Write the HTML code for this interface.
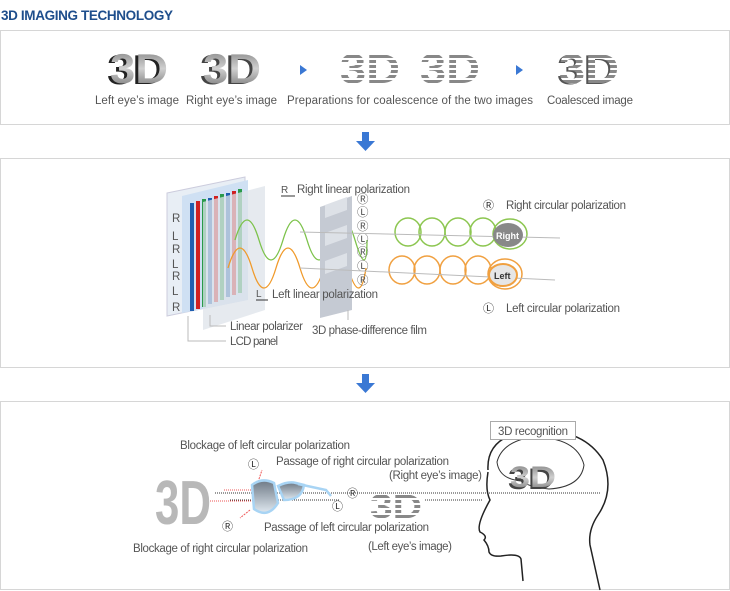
<!DOCTYPE html>
<html><head><meta charset="utf-8"><style>
body{margin:0;background:#fff;width:730px;height:591px;overflow:hidden}
svg{display:block}
text{font-family:"Liberation Sans",sans-serif;fill:#555;font-size:11.5px}
.b3d{font-family:"Liberation Sans",sans-serif;font-weight:bold;font-size:42px}
</style></head><body>
<svg width="730" height="591" viewBox="0 0 730 591" xmlns="http://www.w3.org/2000/svg">
<defs>
<linearGradient id="g3d" x1="0" y1="0" x2="0" y2="1"><stop offset="0" stop-color="#777"/><stop offset=".5" stop-color="#d0d0d0"/><stop offset="1" stop-color="#6a6a6a"/></linearGradient>
<linearGradient id="lens" x1="0" y1="0" x2="0" y2="1"><stop offset="0" stop-color="#6f7a86"/><stop offset="1" stop-color="#dfe8f0"/></linearGradient>
<pattern id="stripes" width="4" height="5" patternUnits="userSpaceOnUse"><rect width="4" height="5" fill="#fff"/><rect width="4" height="3" fill="#888"/></pattern>
</defs>
<text x="1" y="20" style="font-weight:bold;font-size:13.5px;fill:#1e4e8c" textLength="172">3D IMAGING TECHNOLOGY</text>
<rect x="0.5" y="30.5" width="729" height="94" fill="#fff" stroke="#d6d6d6"/>
<text class="b3d" x="107" y="84" style="fill:#222" textLength="58" lengthAdjust="spacingAndGlyphs">3D</text><text class="b3d" x="110" y="83" style="fill:url(#g3d)" textLength="58" lengthAdjust="spacingAndGlyphs">3D</text>
<text class="b3d" x="200" y="84" style="fill:#444" textLength="58" lengthAdjust="spacingAndGlyphs">3D</text><text class="b3d" x="203" y="83" style="fill:url(#g3d)" textLength="58" lengthAdjust="spacingAndGlyphs">3D</text>
<text class="b3d" x="340" y="83" style="fill:url(#stripes)" textLength="60" lengthAdjust="spacingAndGlyphs">3D</text>
<text class="b3d" x="420" y="83" style="fill:url(#stripes)" textLength="60" lengthAdjust="spacingAndGlyphs">3D</text>
<text class="b3d" x="557" y="84" style="fill:#555" textLength="60" lengthAdjust="spacingAndGlyphs">3D</text><text class="b3d" x="559" y="83" style="fill:url(#stripes)" textLength="60" lengthAdjust="spacingAndGlyphs">3D</text>
<path d="M300 65 l7 5 -7 5z" fill="#3a78d4"/>
<path d="M516 65 l7 5 -7 5z" fill="#3a78d4"/>
<text x="95" y="104" textLength="84">Left eye’s image</text>
<text x="186" y="104" textLength="91">Right eye’s image</text>
<text x="287" y="104" textLength="246">Preparations for coalescence of the two images</text>
<text x="547" y="104" textLength="86">Coalesced image</text>
<path d="M362 132h7v9h6l-9.5 10-9.5-10h6z" fill="#3a78d4"/>
<rect x="0.5" y="158.5" width="729" height="209" fill="#fff" stroke="#d6d6d6"/>
<polygon points="167,193 245,177 245,300 167,316" fill="#e8eef5" stroke="#ccd"/>
<polygon points="182,196 248,180 248,300 182,313" fill="#cfe0f3"/>
<g>
<rect x="190" y="203" width="4" height="108" fill="#1f5fb0"/><rect x="196" y="201" width="4" height="108" fill="#d02020"/><rect x="202" y="199" width="4" height="108" fill="#2a9a4a"/>
<rect x="208" y="198" width="4" height="106" fill="#1f5fb0"/><rect x="214" y="196" width="4" height="106" fill="#d02020"/><rect x="220" y="194" width="4" height="106" fill="#2a9a4a"/>
<rect x="226" y="193" width="4" height="104" fill="#1f5fb0"/><rect x="232" y="191" width="4" height="104" fill="#d02020"/><rect x="238" y="189" width="4" height="104" fill="#2a9a4a"/>
</g>
<polygon points="203,202 265,186 265,310 203,330" fill="#dde3ea" opacity=".75"/>
<g style="font-size:10px">
<text x="172" y="222">R</text><text x="172" y="240">L</text><text x="172" y="253">R</text><text x="172" y="268">L</text><text x="172" y="280">R</text><text x="172" y="295">L</text><text x="172" y="311">R</text>
</g>
<path d="M235 240 q12 -40 24 0 t24 0 t24 0 t24 0 t24 0 t12 0" fill="none" stroke="#7cc24a" stroke-width="1.3"/>
<path d="M228 268 q12 -40 24 0 t24 0 t24 0 t24 0 t24 0 t18 0" fill="none" stroke="#f09a2a" stroke-width="1.3"/>
<polygon points="320,207 352,196 352,310 320,318" fill="#c5cad3"/>
<polygon points="325,205 347,197 347,210 325,218" fill="#dde1e7"/><polygon points="325,233 347,225 347,238 325,246" fill="#dde1e7"/><polygon points="325,261 347,253 347,266 325,274" fill="#dde1e7"/>
<g style="font-size:9px;fill:#333">
<text x="357" y="203">Ⓡ</text><text x="357" y="216">Ⓛ</text><text x="357" y="230">Ⓡ</text><text x="357" y="243">Ⓛ</text><text x="357" y="256">Ⓡ</text><text x="357" y="270">Ⓛ</text><text x="357" y="284">Ⓡ</text>
</g>
<g fill="none" stroke="#8cc650" stroke-width="1.5">
<ellipse cx="408" cy="232" rx="13" ry="14"/><ellipse cx="432" cy="232" rx="13" ry="14"/><ellipse cx="458" cy="232" rx="13" ry="14"/><ellipse cx="483" cy="232" rx="13" ry="14"/><ellipse cx="510" cy="234" rx="17" ry="15"/>
</g>
<g fill="none" stroke="#f0a040" stroke-width="1.5">
<ellipse cx="402" cy="270" rx="13" ry="14"/><ellipse cx="427" cy="270" rx="13" ry="14"/><ellipse cx="453" cy="270" rx="13" ry="14"/><ellipse cx="478" cy="270" rx="13" ry="14"/><ellipse cx="505" cy="274" rx="17" ry="15"/>
</g>
<line x1="300" y1="232" x2="560" y2="238" stroke="#bbb"/><line x1="300" y1="268" x2="555" y2="280" stroke="#bbb"/>
<ellipse cx="508" cy="235" rx="15" ry="12" fill="#888"/><text x="496" y="239" style="font-size:9px;font-weight:bold;fill:#fff">Right</text>
<ellipse cx="503" cy="275" rx="14" ry="11" fill="#e6e6e6" stroke="#f0a040" stroke-width="2"/><text x="494" y="279" style="font-size:9px;font-weight:bold;fill:#333">Left</text>
<text x="281" y="193" style="font-size:10px">R</text><line x1="281" y1="196" x2="295" y2="196" stroke="#333"/>
<text x="297" y="193" textLength="113">Right linear polarization</text>
<text x="256" y="297" style="font-size:10px">L</text><line x1="256" y1="300" x2="268" y2="300" stroke="#333"/>
<text x="272" y="298" textLength="106">Left linear polarization</text>
<text x="483" y="209" style="font-size:11px;fill:#333">Ⓡ</text><text x="506" y="209" textLength="120">Right circular polarization</text>
<text x="483" y="312" style="font-size:11px;fill:#333">Ⓛ</text><text x="506" y="312" textLength="114">Left circular polarization</text>
<polyline points="210,315 210,326 226,326" fill="none" stroke="#bbb"/><text x="230" y="330" textLength="73">Linear polarizer</text>
<polyline points="188,316 188,341 226,341" fill="none" stroke="#bbb"/><text x="230" y="345" textLength="48">LCD panel</text>
<line x1="348" y1="310" x2="348" y2="320" stroke="#bbb"/><text x="312" y="334" textLength="115">3D phase-difference film</text>
<path d="M362 374h7v9h6l-9.5 10-9.5-10h6z" fill="#3a78d4"/>
<rect x="0.5" y="401.5" width="729" height="188" fill="#fff" stroke="#d6d6d6"/>
<text class="b3d" x="155" y="524" style="font-size:62px;fill:#b8b8b8" textLength="56" lengthAdjust="spacingAndGlyphs">3D</text>
<line x1="215" y1="493" x2="600" y2="493" stroke="#333" stroke-dasharray="1,1"/>
<line x1="230" y1="500" x2="340" y2="500" stroke="#333" stroke-dasharray="1,1"/>
<line x1="210" y1="501" x2="255" y2="501" stroke="#e55" stroke-dasharray="1,1"/>
<line x1="224" y1="490" x2="255" y2="490" stroke="#e55" stroke-dasharray="1,1"/>
<line x1="258" y1="482" x2="262" y2="470" stroke="#e55" stroke-dasharray="2,1"/>
<line x1="250" y1="510" x2="240" y2="518" stroke="#e55" stroke-dasharray="2,1"/>
<path d="M252 485 q10 -8 22 -2 l4 20 q-10 16 -24 6z" fill="url(#lens)" stroke="#a8d4f4" stroke-width="2.5"/>
<path d="M278 486 q10 -5 18 -3 l8 2 q-2 15 -20 15z" fill="url(#lens)" stroke="#a8d4f4" stroke-width="2.5"/>
<path d="M298 484 l28 6 5 6" fill="none" stroke="#a8d4f4" stroke-width="2.5"/>
<text class="b3d" x="370" y="518" style="font-size:34px;fill:url(#stripes)" textLength="52" lengthAdjust="spacingAndGlyphs">3D</text>
<line x1="425" y1="493" x2="483" y2="493" stroke="#333" stroke-dasharray="1,1"/>
<line x1="425" y1="500" x2="483" y2="500" stroke="#333" stroke-dasharray="1,1"/>
<path d="M488 470 q-2 -35 45 -40 q50 -2 70 30 q12 30 -5 55 q-10 15 -8 30 l10 45 M488 472 q-3 18 2 28 q-14 25 -10 32 q8 4 4 8 q5 6 5 12 q2 5 12 4 q18 -3 20 3 l2 22" fill="none" stroke="#222" stroke-width="1.5"/>
<path d="M497 462 q5 -20 35 -25 q45 0 52 28 q-3 22 -35 24 q-20 -2 -28 -8 q-22 -2 -24 -19z" fill="none" stroke="#333"/>
<text class="b3d" x="508" y="489" style="font-size:30px;fill:#444" textLength="46" lengthAdjust="spacingAndGlyphs">3D</text><text class="b3d" x="510" y="487" style="font-size:30px;fill:url(#g3d)" textLength="46" lengthAdjust="spacingAndGlyphs">3D</text>
<rect x="490.5" y="421.5" width="85" height="18" fill="#fff" stroke="#aaa"/><text x="498" y="435" textLength="70">3D recognition</text>
<text x="180" y="449" textLength="170">Blockage of left circular polarization</text>
<text x="276" y="465" textLength="173">Passage of right circular polarization</text>
<text x="389" y="479" textLength="93">(Right eye’s image)</text>
<text x="248" y="468" style="font-size:11px;fill:#333">Ⓛ</text>
<text x="347" y="497" style="font-size:11px;fill:#333">Ⓡ</text>
<text x="332" y="510" style="font-size:11px;fill:#333">Ⓛ</text>
<text x="222" y="530" style="font-size:11px;fill:#333">Ⓡ</text>
<text x="264" y="531" textLength="165">Passage of left circular polarization</text>
<text x="368" y="550" textLength="84">(Left eye’s image)</text>
<text x="133" y="552" textLength="175">Blockage of right circular polarization</text>
</svg>
</body></html>
